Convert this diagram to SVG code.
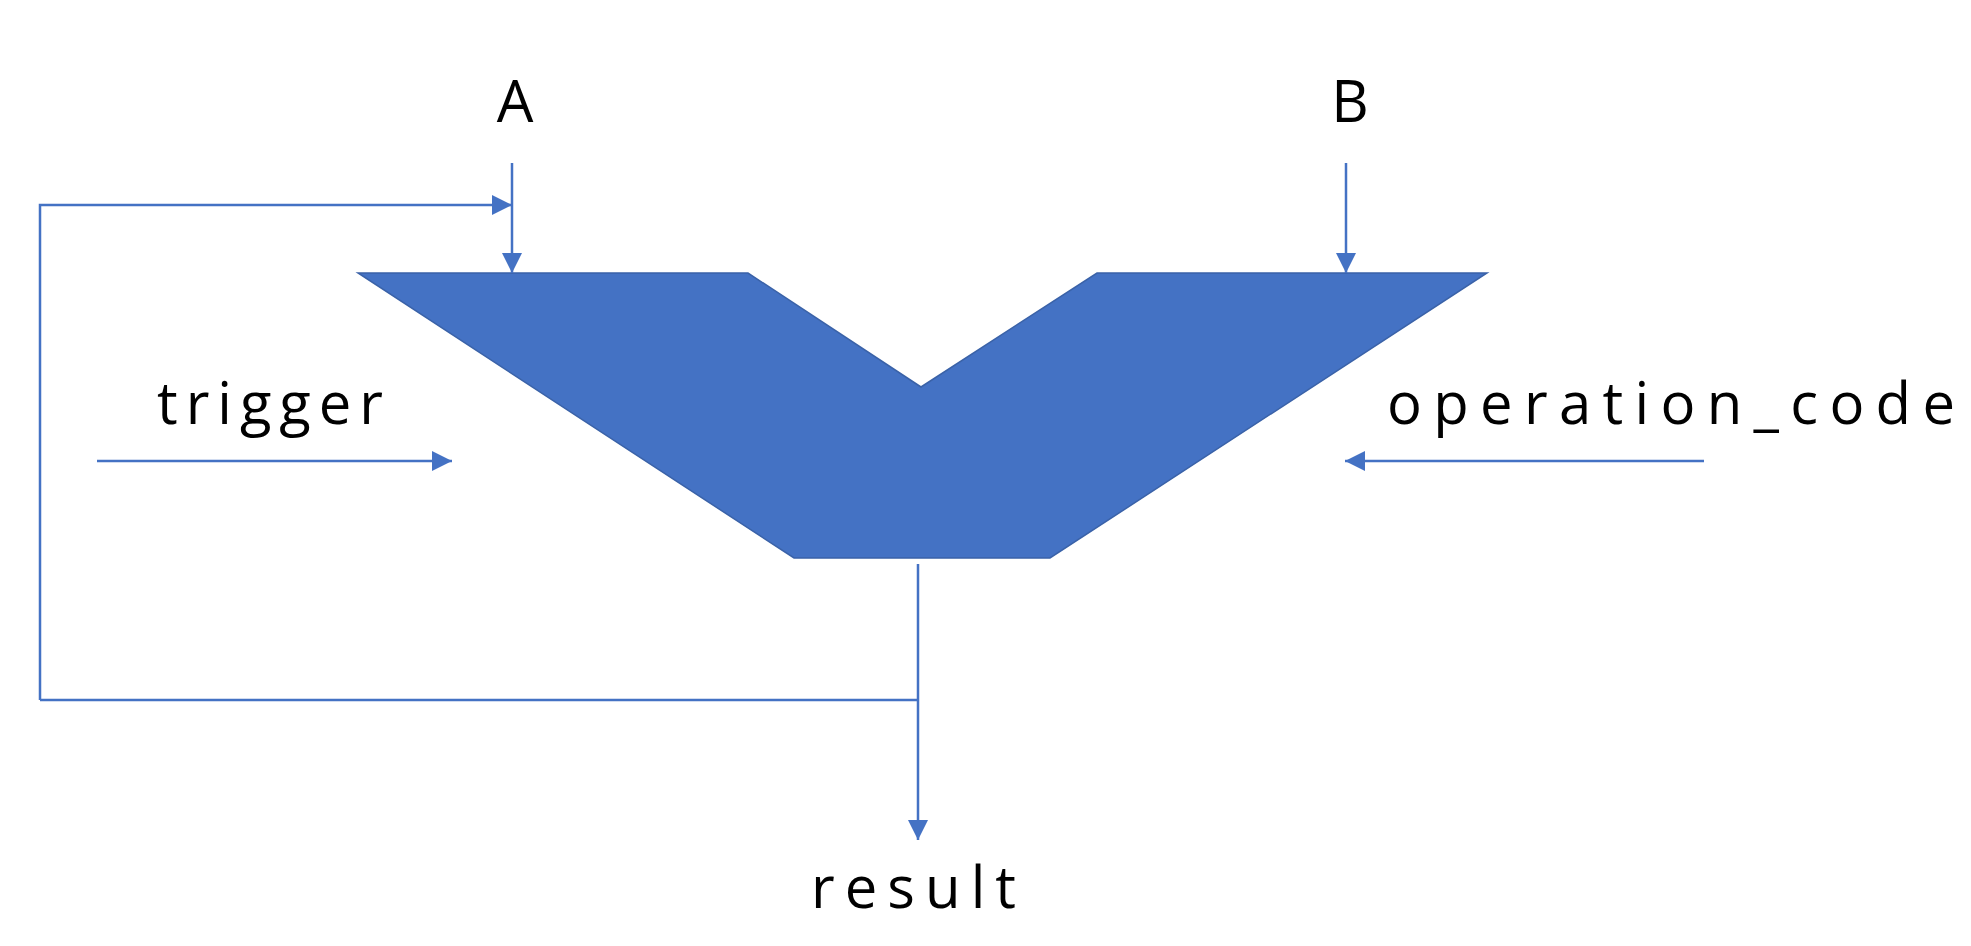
<svg xmlns="http://www.w3.org/2000/svg" width="1971" height="946" viewBox="0 0 1971 946">
<style>
.t{font-family:"Open Sans","Liberation Sans",sans-serif;font-size:58px;fill:#000}
.c{stroke:#4472C4;stroke-width:2.5;fill:none}
</style>
<defs><marker id="ar" viewBox="0 0 10 10" refX="10" refY="5" markerWidth="10" markerHeight="10" markerUnits="userSpaceOnUse" orient="auto"><path d="M0,0L10,5L0,10z" fill="#4472C4"/></marker>
<marker id="ab" viewBox="0 0 10 10" refX="10" refY="5" markerWidth="28" markerHeight="20" markerUnits="userSpaceOnUse" orient="auto"><path d="M0,0L10,5L0,10z" fill="#4472C4"/></marker></defs>
<rect width="1971" height="946" fill="#fff"/>
<g id="alu"><polygon points="358,273 748,273 921,387 1097,273 1487,273 1050,558 794,558" fill="#4472C4" stroke="#3A62A8" stroke-width="1.5"/></g>
<g id="connectors">
<path class="c" d="M512,163V273" marker-end="url(#ab)"/>
<path class="c" d="M1346,163V273" marker-end="url(#ab)"/>
<path class="c" d="M40,700V205H512" marker-end="url(#ab)"/>
<path class="c" d="M97,461H452" marker-end="url(#ab)"/>
<path class="c" d="M1704,461H1345" marker-end="url(#ab)"/>
<path class="c" d="M918,564V840" marker-end="url(#ab)"/>
<path class="c" d="M40,700H918"/>
</g>
<g id="labels">
<text class="t" x="515" y="122" text-anchor="middle">A</text>
<text class="t" x="1350" y="122" text-anchor="middle">B</text>
<text class="t" x="157" y="424" textLength="226">trigger</text>
<text class="t" x="1387" y="424" textLength="568">operation_code</text>
<text class="t" x="811" y="908" textLength="205">result</text>
</g>
</svg>
